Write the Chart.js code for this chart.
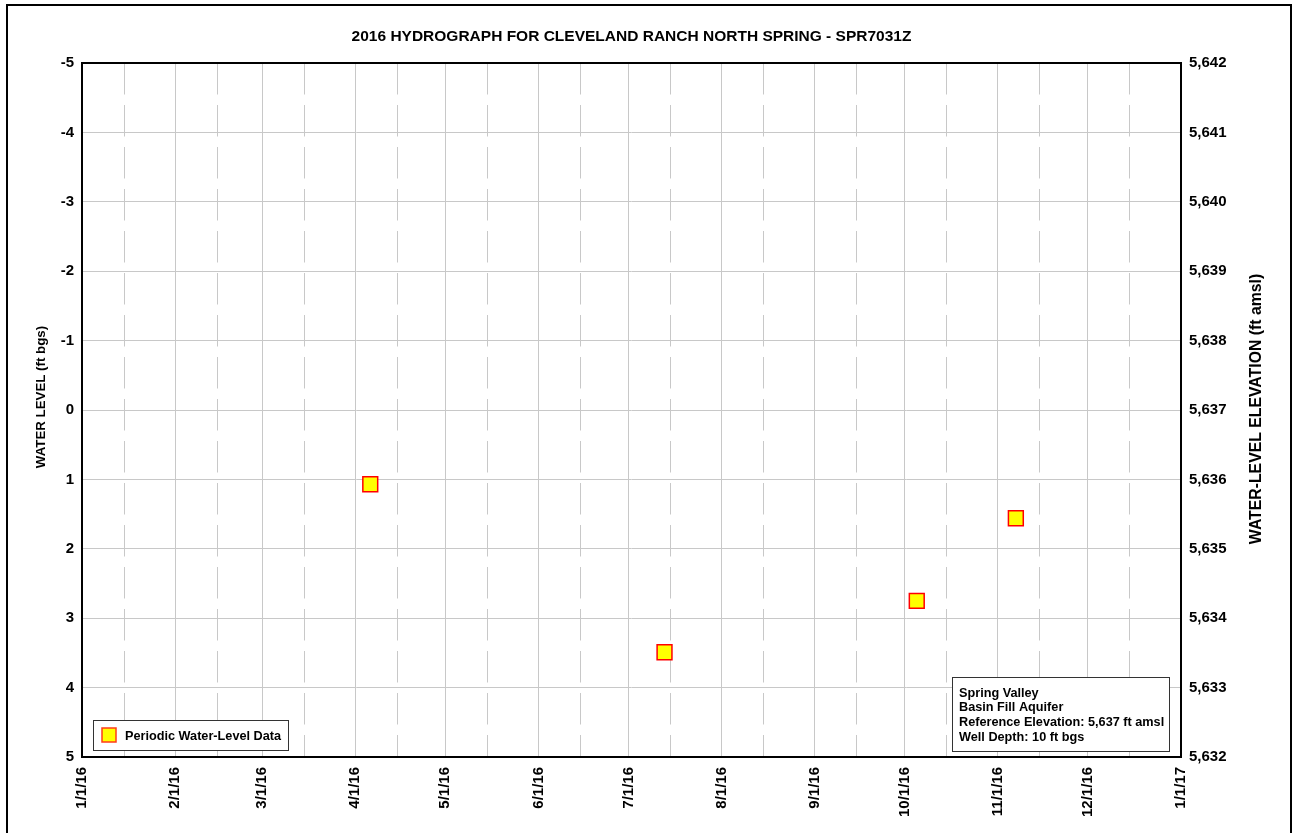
<!DOCTYPE html>
<html>
<head>
<meta charset="utf-8">
<title>2016 Hydrograph - SPR7031Z</title>
<script src="https://cdn.jsdelivr.net/npm/chart.js@4.4.1/dist/chart.umd.min.js"></script>
<style>
  html, body { margin: 0; padding: 0; background: #fff; }
  canvas { display: block; }
</style>
</head>
<body>
<canvas id="hydro" width="1293" height="833"></canvas>
<script>
// ---- data ----
const sampleDates = ['2016-04-06', '2016-07-13', '2016-10-05', '2016-11-07'];
const waterLevels = [1.07, 3.49, 2.75, 1.56]; // ft bgs

const monthStarts = ['2016-01-01', '2016-02-01', '2016-03-01', '2016-04-01', '2016-05-01', '2016-06-01',
  '2016-07-01', '2016-08-01', '2016-09-01', '2016-10-01', '2016-11-01', '2016-12-01', '2017-01-01'];
const monthLabels = ['1/1/16', '2/1/16', '3/1/16', '4/1/16', '5/1/16', '6/1/16',
  '7/1/16', '8/1/16', '9/1/16', '10/1/16', '11/1/16', '12/1/16', '1/1/17'];
const midMonths = ['2016-01-15', '2016-02-15', '2016-03-15', '2016-04-15', '2016-05-15', '2016-06-15',
  '2016-07-15', '2016-08-15', '2016-09-15', '2016-10-15', '2016-11-15', '2016-12-15'];

const levelTicks = [-5, -4, -3, -2, -1, 0, 1, 2, 3, 4, 5];
const refElevation = 5637;

const titleText = '2016 HYDROGRAPH FOR CLEVELAND RANCH NORTH SPRING - SPR7031Z';
const leftTitle = 'WATER LEVEL (ft bgs)';
const rightTitle = 'WATER-LEVEL ELEVATION (ft amsl)';
const legendText = 'Periodic Water-Level Data';
const infoLines = ['Spring Valley', 'Basin Fill Aquifer', 'Reference Elevation: 5,637 ft amsl', 'Well Depth: 10 ft bgs'];

// ---- helpers ----
const FONT = '"Liberation Sans", Arial, Helvetica, sans-serif';
const GRID = '#c8c8c8';

function dayOfYear(s) {
  const [y, m, d] = s.split('-').map(Number);
  return (Date.UTC(y, m - 1, d) - Date.UTC(2016, 0, 1)) / 86400000;
}

const monthDays = monthStarts.map(dayOfYear);
const midDays = midMonths.map(dayOfYear);
const points = sampleDates.map((d, i) => ({ x: dayOfYear(d), y: waterLevels[i] }));

// frame, titles, legend and info box
const decorations = {
  id: 'decorations',
  afterDraw(chart) {
    const { ctx, chartArea: a } = chart;
    ctx.save();

    // plot border
    ctx.strokeStyle = '#000';
    ctx.lineWidth = 2;
    ctx.strokeRect(a.left, a.top, a.right - a.left, a.bottom - a.top);

    // outer frame
    ctx.strokeRect(7, 5, 1284, 900);

    ctx.fillStyle = '#000';
    ctx.font = 'bold 15.5px ' + FONT;
    ctx.textAlign = 'center';
    ctx.textBaseline = 'middle';
    ctx.fillText(titleText, (a.left + a.right) / 2, 37);

    // axis titles, both reading bottom-to-top
    ctx.save();
    ctx.font = 'bold 13.3px ' + FONT;
    ctx.translate(41, 397);
    ctx.rotate(-Math.PI / 2);
    ctx.fillText(leftTitle, 0, 0);
    ctx.restore();

    ctx.save();
    ctx.font = 'bold 15.8px ' + FONT;
    ctx.translate(1257, 409);
    ctx.rotate(-Math.PI / 2);
    ctx.fillText(rightTitle, 0, 0);
    ctx.restore();

    // legend box
    ctx.fillStyle = '#fff';
    ctx.fillRect(93, 720, 196, 31);
    ctx.lineWidth = 1;
    ctx.strokeStyle = '#333';
    ctx.strokeRect(93.5, 720.5, 195, 30);
    ctx.fillStyle = '#ffff00';
    ctx.fillRect(102, 728, 14, 14);
    ctx.strokeStyle = '#ff3b1a';
    ctx.lineWidth = 1.5;
    ctx.strokeRect(102, 728, 14, 14);
    ctx.fillStyle = '#000';
    ctx.font = 'bold 12.7px ' + FONT;
    ctx.textAlign = 'left';
    ctx.fillText(legendText, 125, 736);

    // info box
    ctx.fillStyle = '#fff';
    ctx.fillRect(952, 677, 218, 75);
    ctx.strokeStyle = '#333';
    ctx.lineWidth = 1;
    ctx.strokeRect(952.5, 677.5, 217, 74);
    ctx.fillStyle = '#000';
    infoLines.forEach((t, i) => ctx.fillText(t, 959, 693 + i * 14.8));

    ctx.restore();
  }
};

new Chart(document.getElementById('hydro'), {
  type: 'scatter',
  data: {
    datasets: [{
      label: legendText,
      data: points,
      yAxisID: 'y',
      xAxisID: 'x',
      pointStyle: 'rect',
      pointRadius: 10.5,
      pointHoverRadius: 10.5,
      backgroundColor: '#ffff00',
      borderColor: '#ff0000',
      borderWidth: 1.5
    }]
  },
  options: {
    responsive: false,
    animation: false,
    layout: { padding: { top: 63, left: 0, right: 0, bottom: 0 } },
    plugins: {
      legend: { display: false },
      title: { display: false },
      tooltip: { enabled: false }
    },
    scales: {
      x: {
        type: 'linear',
        position: 'bottom',
        min: monthDays[0],
        max: monthDays[monthDays.length - 1],
        afterBuildTicks: (s) => { s.ticks = monthDays.map(v => ({ value: v })); },
        afterFit: (s) => { s.height = 76; },
        grid: { color: GRID, lineWidth: 1, drawTicks: false },
        border: { display: false },
        ticks: {
          autoSkip: false,
          maxRotation: 90,
          minRotation: 90,
          padding: 10,
          color: '#000',
          font: { family: FONT, size: 15, weight: 'bold' },
          callback: (v) => monthLabels[monthDays.indexOf(v)]
        }
      },
      xMid: {
        type: 'linear',
        position: 'bottom',
        min: monthDays[0],
        max: monthDays[monthDays.length - 1],
        afterBuildTicks: (s) => { s.ticks = midDays.map(v => ({ value: v })); },
        afterFit: (s) => { s.height = 0; },
        grid: { color: GRID, lineWidth: 1, drawTicks: false },
        border: { display: false, dash: [31.5, 10.5] },
        ticks: { display: false }
      },
      y: {
        type: 'linear',
        position: 'left',
        reverse: true,
        min: levelTicks[0],
        max: levelTicks[levelTicks.length - 1],
        afterBuildTicks: (s) => { s.ticks = levelTicks.map(v => ({ value: v })); },
        afterFit: (s) => { s.width = 82; },
        grid: { color: GRID, lineWidth: 1, drawTicks: false },
        border: { display: false },
        ticks: {
          padding: 8,
          color: '#000',
          font: { family: FONT, size: 15, weight: 'bold' }
        }
      },
      y2: {
        type: 'linear',
        position: 'right',
        min: refElevation - levelTicks[levelTicks.length - 1],
        max: refElevation - levelTicks[0],
        afterBuildTicks: (s) => { s.ticks = levelTicks.map(v => ({ value: refElevation - v })); },
        afterFit: (s) => { s.width = 112; },
        grid: { drawOnChartArea: false, drawTicks: false },
        border: { display: false },
        ticks: {
          padding: 8,
          color: '#000',
          font: { family: FONT, size: 15, weight: 'bold' },
          callback: (v) => v.toLocaleString('en-US')
        }
      }
    }
  },
  plugins: [decorations]
});
</script>
</body>
</html>
